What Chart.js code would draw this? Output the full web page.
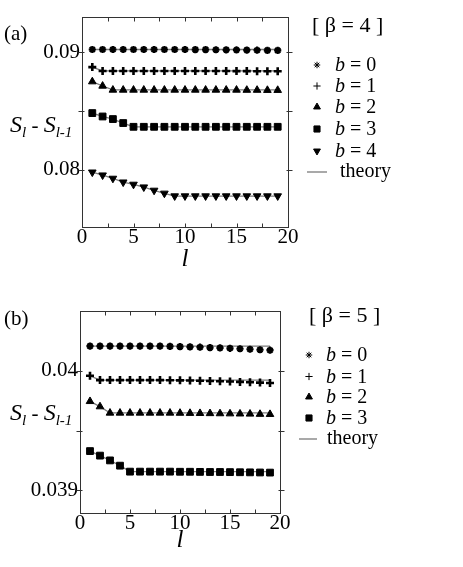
<!DOCTYPE html>
<html><head><meta charset="utf-8">
<script src="https://cdn.jsdelivr.net/npm/chart.js@4.4.0/dist/chart.umd.min.js"></script>
<style>
body{margin:0;background:#fff;width:463px;height:567px;overflow:hidden;position:relative}
.w{position:absolute;left:0;width:463px}
</style></head><body>
<div class="w" style="top:0;height:280px"><canvas id="ca"></canvas></div>
<div class="w" style="top:280px;height:287px"><canvas id="cb"></canvas></div>
<script>
// ---------- data ----------
const lValues = [1,2,3,4,5,6,7,8,9,10,11,12,13,14,15,16,17,18,19];
const xTicks = [0,2.5,5,7.5,10,12.5,15,17.5,20];
const xTickLabels = ['0','','5','','10','','15','','20'];

// panel (a), beta = 4
const aTicks = [0.08,0.085,0.09];
const aTickLabels = ['0.08','','0.09'];
const aData0 = [0.09023,0.09023,0.09023,0.09023,0.09023,0.09023,0.09023,0.09023,0.09023,0.09023,0.09022,0.09022,0.09021,0.09020,0.09019,0.09018,0.09017,0.09016,0.09015];
const aTheory0 = [0.09023,0.09023,0.09023,0.09023,0.09023,0.09023,0.09023,0.09023,0.09023,0.09023,0.09023,0.09023,0.09023,0.09023,0.09023,0.09023,0.09023,0.09023,0.09023];
const aData1 = [0.08873,0.0884,0.0884,0.0884,0.0884,0.0884,0.0884,0.0884,0.0884,0.0884,0.0884,0.0884,0.0884,0.0884,0.08839,0.08839,0.08838,0.08838,0.08837];
const aTheory1 = [0.08873,0.0884,0.0884,0.0884,0.0884,0.0884,0.0884,0.0884,0.0884,0.0884,0.0884,0.0884,0.0884,0.0884,0.0884,0.0884,0.0884,0.0884,0.0884];
const aData2 = [0.08749,0.08712,0.08678,0.08678,0.08678,0.08678,0.08678,0.08678,0.08678,0.08678,0.08678,0.08678,0.08678,0.08678,0.08678,0.08677,0.08677,0.08676,0.08676];
const aTheory2 = [0.08749,0.08712,0.08678,0.08678,0.08678,0.08678,0.08678,0.08678,0.08678,0.08678,0.08678,0.08678,0.08678,0.08678,0.08678,0.08678,0.08678,0.08678,0.08678];
const aData3 = [0.08481,0.08452,0.0843,0.08396,0.08364,0.08364,0.08364,0.08364,0.08364,0.08364,0.08364,0.08364,0.08364,0.08364,0.08364,0.08364,0.08364,0.08364,0.08364];
const aTheory3 = [0.08481,0.08452,0.0843,0.08396,0.08364,0.08364,0.08364,0.08364,0.08364,0.08364,0.08364,0.08364,0.08364,0.08364,0.08364,0.08364,0.08364,0.08364,0.08364];
const aData4 = [0.07977,0.07952,0.07924,0.07892,0.07873,0.0785,0.07822,0.07797,0.07774,0.07774,0.07774,0.07774,0.07774,0.07774,0.07774,0.07774,0.07774,0.07774,0.07774];
const aTheory4 = [0.07977,0.07952,0.07924,0.07892,0.07873,0.0785,0.07822,0.07797,0.07774,0.07774,0.07774,0.07774,0.07774,0.07774,0.07774,0.07774,0.07774,0.07774,0.07774];

// panel (b), beta = 5
const bTicks = [0.039,0.0395,0.04];
const bTickLabels = ['0.039','','0.04'];
const bData0 = [0.040206,0.040206,0.040206,0.040206,0.040206,0.040206,0.040206,0.040206,0.040204,0.040202,0.0402,0.040197,0.040194,0.040191,0.040188,0.040184,0.04018,0.040176,0.040172];
const bTheory0 = [0.040206,0.040206,0.040206,0.040206,0.040206,0.040206,0.040206,0.040206,0.040206,0.040206,0.040206,0.040206,0.040206,0.040206,0.040206,0.040206,0.040206,0.040206,0.040206];
const bData1 = [0.039958,0.039922,0.039922,0.039922,0.039922,0.039922,0.039922,0.039922,0.039921,0.03992,0.039918,0.039916,0.039914,0.039912,0.03991,0.039907,0.039904,0.039901,0.039898];
const bTheory1 = [0.039958,0.039922,0.039922,0.039922,0.039922,0.039922,0.039922,0.039922,0.039922,0.039922,0.039922,0.039922,0.039922,0.039922,0.039922,0.039922,0.039922,0.039922,0.039922];
const bData2 = [0.039744,0.0397,0.039647,0.039647,0.039647,0.039647,0.039647,0.039647,0.039647,0.039646,0.039645,0.039644,0.039643,0.039642,0.039641,0.03964,0.039639,0.039637,0.039636];
const bTheory2 = [0.039744,0.0397,0.039647,0.039647,0.039647,0.039647,0.039647,0.039647,0.039647,0.039647,0.039647,0.039647,0.039647,0.039647,0.039647,0.039647,0.039647,0.039647,0.039647];
const bData3 = [0.039328,0.03929,0.03925,0.039206,0.039156,0.039156,0.039156,0.039156,0.039156,0.039155,0.039155,0.039154,0.039153,0.039153,0.039152,0.039151,0.03915,0.039149,0.039148];
const bTheory3 = [0.039328,0.03929,0.03925,0.039206,0.039156,0.039156,0.039156,0.039156,0.039156,0.039156,0.039156,0.039156,0.039156,0.039156,0.039156,0.039156,0.039156,0.039156,0.039156];

const seriesNames = ['b = 0','b = 1','b = 2','b = 3','b = 4'];

// ---------- styles ----------
const SERIF = '"Liberation Serif","DejaVu Serif",serif';
const markerStyles = [
  {pointStyle:'star', radius:3.6, borderWidth:2.2, rotation:0},
  {pointStyle:'cross', radius:4, borderWidth:2.6, rotation:0},
  {pointStyle:'triangle', radius:4.4, borderWidth:1, rotation:0},
  {pointStyle:'rect', radius:4.8, borderWidth:1, rotation:0},
  {pointStyle:'triangle', radius:4.4, borderWidth:1, rotation:180}
];

function pts(arr){ return arr.map((v,i)=>({x:lValues[i], y:v})); }

function buildDatasets(dataArrs, theoryArrs){
  const ds = [];
  theoryArrs.forEach(t=>{
    ds.push({type:'line', data:pts(t), borderColor:'#7a7a7a', borderWidth:1.3,
      pointRadius:0, fill:false, tension:0, order:2});
  });
  dataArrs.forEach((d,i)=>{
    const m = markerStyles[i];
    ds.push({type:'scatter', data:pts(d), showLine:false, pointStyle:m.pointStyle,
      pointRadius:m.radius, pointBorderWidth:m.borderWidth, pointRotation:m.rotation,
      pointBackgroundColor:'#000', pointBorderColor:'#000', order:1});
  });
  return ds;
}

function drawRuns(ctx, x, y, runs){
  runs.forEach(r=>{
    ctx.font = (r.italic?'italic ':'') + r.size + 'px ' + SERIF;
    ctx.fillText(r.t, x, y + (r.dy||0));
    x += ctx.measureText(r.t).width + (r.gap||0);
  });
}

const deco = {
  id:'deco',
  afterDraw(chart, args, o){
    const ctx = chart.ctx, ca = chart.chartArea;
    const xs = chart.scales.x, ys = chart.scales.y;
    ctx.save();
    ctx.strokeStyle = '#333'; ctx.lineWidth = 1;
    const L = Math.round(ca.left)+0.5, R = Math.round(ca.right)+0.5, T = Math.round(ca.top)+0.5, B = Math.round(ca.bottom)+0.5;
    ctx.strokeRect(L, T, R-L, B-T);
    ctx.beginPath();
    o.xTicks.forEach(v=>{
      const px = Math.round(xs.getPixelForValue(v))+0.5;
      ctx.moveTo(px, B); ctx.lineTo(px, B-4);
      ctx.moveTo(px, T); ctx.lineTo(px, T+4);
    });
    o.yTicks.forEach(v=>{
      const py = Math.round(ys.getPixelForValue(v))+0.5;
      ctx.moveTo(L-4, py); ctx.lineTo(L+2, py);
      ctx.moveTo(R-2, py); ctx.lineTo(R+4, py);
    });
    ctx.stroke();

    ctx.fillStyle = '#000';
    ctx.textBaseline = 'alphabetic';
    ctx.textAlign = 'left';
    ctx.font = '21px ' + SERIF;
    ctx.fillText(o.panel, o.panelX, o.panelY);
    drawRuns(ctx, o.yTitleX, o.yTitleY, [
      {t:'S', italic:true, size:24},
      {t:'l', italic:true, size:15, dy:5},
      {t:' - ', size:21},
      {t:'S', italic:true, size:24},
      {t:'l-1', italic:true, size:15, dy:5}
    ]);
    ctx.font = 'italic 25px ' + SERIF;
    ctx.textAlign = 'center';
    ctx.fillText('l', o.xTitleX, o.xTitleY);
    ctx.textAlign = 'left';
    ctx.font = '22px ' + SERIF;
    ctx.fillText(o.legendTitle, o.legTitleX, o.legTitleY);
    const drawPoint = Chart.helpers && Chart.helpers.drawPoint;
    o.names.forEach((n,i)=>{
      const yy = o.rowY[i];
      const m = markerStyles[i];
      ctx.fillStyle = '#000'; ctx.strokeStyle = '#000';
      if (drawPoint) drawPoint(ctx, {pointStyle:m.pointStyle, radius:m.radius*0.9, rotation:m.rotation, borderWidth:m.borderWidth}, o.markX, yy);
      ctx.textBaseline = 'middle';
      const parts = n.split(' ');
      drawRuns(ctx, o.textX, yy+1, [
        {t:parts[0], italic:true, size:20},
        {t:' ' + parts.slice(1).join(' '), size:20}
      ]);
    });
    const ty = o.theoryY;
    ctx.strokeStyle = '#7a7a7a'; ctx.lineWidth = 1.3;
    ctx.beginPath(); ctx.moveTo(o.lineX0, ty); ctx.lineTo(o.lineX1, ty); ctx.stroke();
    ctx.font = '20px ' + SERIF; ctx.fillStyle = '#000';
    ctx.fillText('theory', o.theoryTextX, ty);
    ctx.restore();
  }
};

function makeChart(id, dataArrs, theoryArrs, yMin, yMax, yTicks, yTickLabels, pad, decoOpts){
  return new Chart(document.getElementById(id), {
    type:'scatter',
    data:{datasets: buildDatasets(dataArrs, theoryArrs)},
    plugins:[deco],
    options:{
      responsive:true, maintainAspectRatio:false, animation:false,
      layout:{padding:pad},
      plugins:{legend:{display:false}, tooltip:{enabled:false}, deco:decoOpts},
      scales:{
        x:{type:'linear', min:0, max:20,
          afterBuildTicks:(ax)=>{ ax.ticks = xTicks.map(v=>({value:v})); },
          afterFit:(ax)=>{ ax.height = 30; },
          grid:{display:false, drawTicks:false}, border:{display:false},
          ticks:{autoSkip:false, maxRotation:0, padding:-2, color:'#000',
            font:{family:SERIF, size:21},
            callback:(v)=>{ const i = xTicks.indexOf(v); return i>=0 ? xTickLabels[i] : ''; }}
        },
        y:{type:'linear', min:yMin, max:yMax,
          afterBuildTicks:(ax)=>{ ax.ticks = yTicks.map(v=>({value:v})); },
          afterFit:(ax)=>{ ax.width = 75; },
          grid:{display:false, drawTicks:false}, border:{display:false},
          ticks:{autoSkip:false, padding:2, color:'#000',
            font:{family:SERIF, size:21},
            callback:(v)=>{ const i = yTicks.findIndex(t=>Math.abs(t-v)<1e-9); return i>=0 ? yTickLabels[i] : ''; }}
        }
      }
    }
  });
}

makeChart('ca', [aData0,aData1,aData2,aData3,aData4], [aTheory0,aTheory1,aTheory2,aTheory3,aTheory4],
  0.0751, 0.093, aTicks, aTickLabels,
  {left:7, right:175, top:17, bottom:23},
  {panel:'(a)', panelX:4, panelY:40, yTitleX:10, yTitleY:132, xTitleX:185, xTitleY:266,
   legendTitle:'[ β = 4 ]', legTitleX:312, legTitleY:32,
   names:seriesNames, rowY:[65,86,107,129,151], markX:317, textX:335,
   theoryY:172, lineX0:307, lineX1:327, theoryTextX:340, xTicks:xTicks, yTicks:aTicks});

makeChart('cb', [bData0,bData1,bData2,bData3], [bTheory0,bTheory1,bTheory2,bTheory3],
  0.03881, 0.0405, bTicks, bTickLabels,
  {left:5, right:183, top:31, bottom:24},
  {panel:'(b)', panelX:4, panelY:45, yTitleX:10, yTitleY:140, xTitleX:180, xTitleY:267,
   legendTitle:'[ β = 5 ]', legTitleX:309, legTitleY:42,
   names:seriesNames.slice(0,4), rowY:[75,96.5,117,138], markX:309, textX:326,
   theoryY:159, lineX0:299, lineX1:317, theoryTextX:327, xTicks:xTicks, yTicks:bTicks});
</script>
</body></html>
